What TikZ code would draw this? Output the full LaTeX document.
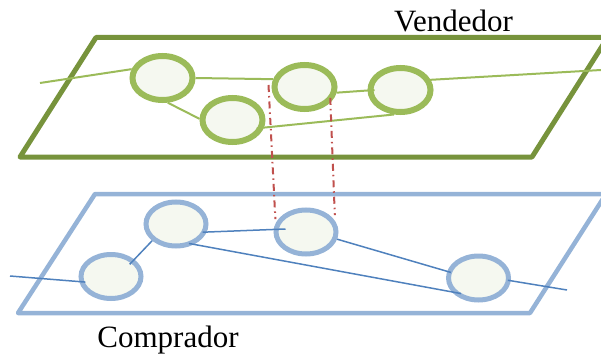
\documentclass[tikz,border=0pt]{standalone}
\usepackage{fontspec}
\setmainfont{Liberation Serif}
\usepackage{tikz}
\usetikzlibrary{shapes.geometric}
\definecolor{planegreen}{HTML}{77933C}
\definecolor{ringgreen}{HTML}{9BBB59}
\definecolor{ringblue}{HTML}{95B3D7}
\definecolor{linkblue}{HTML}{4F81BD}
\definecolor{matchred}{HTML}{C0504D}
\definecolor{nodefill}{HTML}{F5F8F0}
\tikzset{
    %Define style for the planes
    plane/.style={
           line width=5pt,
           line join=round},
    %Define style for the nodes
    vend/.style={
           ellipse,
           draw=ringgreen, line width=6pt,
           fill=nodefill,
           minimum width=60pt,
           minimum height=44pt,
           inner sep=0pt},
    comp/.style={
           ellipse,
           draw=ringblue, line width=5pt,
           fill=nodefill,
           minimum width=60pt,
           minimum height=44pt,
           inner sep=0pt},
    % Define line styles
    vlink/.style={
           draw=ringgreen,
           line width=2pt},
    clink/.style={
           draw=linkblue,
           line width=1.5pt},
    match/.style={
           draw=matchred,
           line width=2pt,
           dash pattern=on 7pt off 4pt on 1.5pt off 4pt}
}
\begin{document}
\begin{tikzpicture}[x=1pt,y=-1pt,font=\fontsize{31}{36}\selectfont]
\useasboundingbox (0,0) rectangle (601,358);
% planes
\draw[plane,draw=planegreen] (20,157) -- (96,37.5) -- (607.6,37.5) -- (532,157) -- cycle;
\draw[plane,draw=ringblue,line width=4.5pt] (18,313) -- (95,194) -- (606,194) -- (530,313) -- cycle;
\node[anchor=base] (vlabel) at (453.5,32) {Vendedor};
\node[anchor=base] (clabel) at (168,347) {Comprador};
% Vendedor
\node[vend] (a) at (162.5,78) {};
\node[vend] (b) at (232.5,120) {};
\node[vend] (c) at (304.5,87) {};
\node[vend] (d) at (400.5,90) {};
\coordinate (vin) at (40,83);
\coordinate (vout) at (601,70);
\path[vlink]
	(vin) edge (a.164)
	(a.east) edge (c.166)
	(a.-78) edge (b.178)
	(c.-10) edge ([xshift=7pt]d.west)
	([xshift=-7pt]b.-15) edge (d.-105)
	([xshift=-6pt]d.18) edge (vout);
% Comprador
\node[comp] (e) at (176,224) {};
\node[comp] (f) at (306,232) {};
\node[comp] (g) at (111,276.5) {};
\node[comp] (h) at (478.5,278) {};
\coordinate (cin) at (10,276);
\coordinate (cout) at (567,290);
\path[clink]
	(cin) edge ([xshift=6pt]g.190)
	([xshift=-3pt,yshift=-6pt]g.40) edge (e.-145)
	([xshift=-4pt]e.-15) edge ([xshift=12pt,yshift=3pt]f.west)
	([yshift=3pt]e.-60) edge ([xshift=2pt,yshift=4pt]h.-135)
	(f.-13) edge ([xshift=4pt]h.170)
	([xshift=-3pt]h.-4) edge (cout);
% matches
\path[match]
	([xshift=-3pt,yshift=2pt]c.west) edge ([xshift=-3pt]f.155)
	([xshift=-4pt]c.-20) edge ([xshift=3pt,yshift=2pt]f.30);
\end{tikzpicture}
\end{document}
